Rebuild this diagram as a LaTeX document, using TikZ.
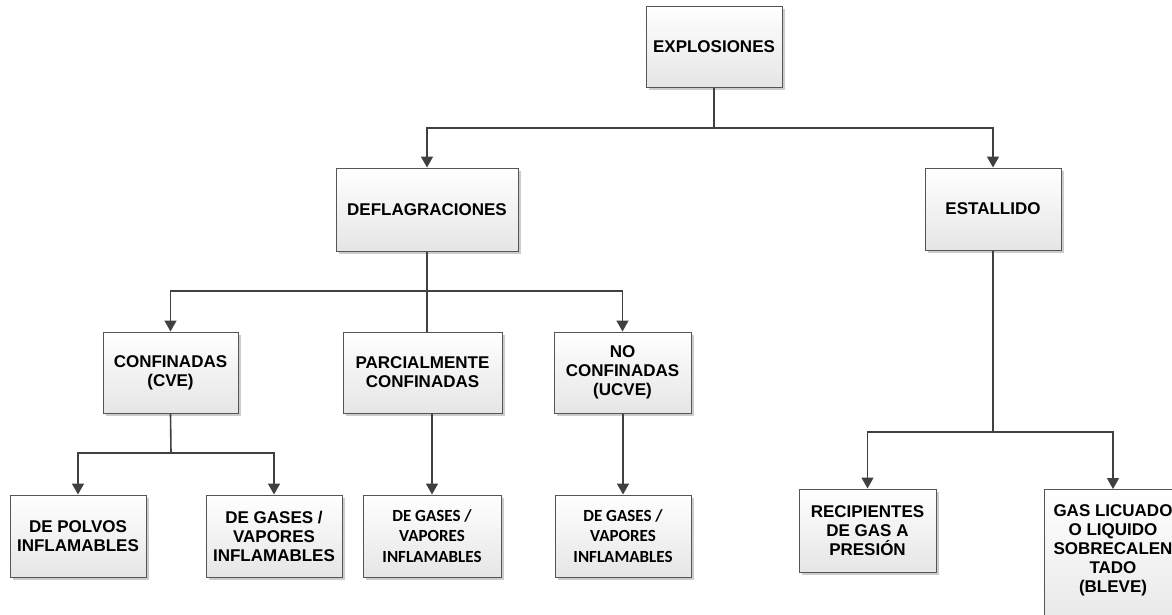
\documentclass[tikz,border=0pt]{standalone}
\usepackage{fontspec}
\setmainfont{Liberation Sans}
\newfontfamily\carlito{Carlito}
\usetikzlibrary{arrows.meta,shadows}
\definecolor{wirecol}{HTML}{404040}
\definecolor{edgecol}{HTML}{555555}

\begin{document}
\begin{tikzpicture}[x=1pt,y=-1pt,
    box/.style={draw=edgecol, line width=1pt, top color=white, bottom color=black!10,
        drop shadow={shadow xshift=3pt, shadow yshift=-3pt, fill=black!20, opacity=1},
        align=center, inner sep=2pt, font=\bfseries\fontsize{17}{19}\selectfont},
    cbox/.style={box, font=\carlito\bfseries\fontsize{17}{20.5}\selectfont},
    wire/.style={draw=wirecol, line width=1.6pt},
    arr/.style={wire, -{Triangle[width=12pt,length=11pt]}}]
    \useasboundingbox (0,0) rectangle (1172,614);

    % boxes, px coordinates
    \node[box, minimum width=136, minimum height=81] (expl) at (714,46.5) {EXPLOSIONES};
    \node[box, minimum width=182, minimum height=83] (defl) at (427,209.5) {DEFLAGRACIONES};
    \node[box, minimum width=136, minimum height=82] (esta) at (993,209) {ESTALLIDO};
    \node[box, minimum width=135, minimum height=81] (conf) at (170.5,372.5) {CONFINADAS\\(CVE)};
    \node[box, minimum width=159, minimum height=81] (parc) at (422.5,372.5) {PARCIALMENTE\\CONFINADAS};
    \node[box, minimum width=137, minimum height=81] (ucve) at (622.5,372.5) {NO\\CONFINADAS\\(UCVE)};
    \node[box, minimum width=136, minimum height=82] (polv) at (78,536) {DE POLVOS\\INFLAMABLES};
    \node[box, minimum width=136, minimum height=82] (gasc) at (274,536) {DE GASES /\\VAPORES\\INFLAMABLES};
    \node[cbox, minimum width=138, minimum height=82] (gasp) at (432,536) {DE GASES /\\VAPORES\\INFLAMABLES};
    \node[cbox, minimum width=136, minimum height=82] (gasu) at (623,536) {DE GASES /\\VAPORES\\INFLAMABLES};
    \node[box, minimum width=137, minimum height=83] (reci) at (867.5,530.5) {RECIPIENTES\\DE GAS A\\PRESIÓN};
    \node[box, minimum width=138, inner ysep=15pt, anchor=north] (blev) at (1113,489)
        {GAS LICUADO\\O LIQUIDO\\SOBRECALEN\\TADO\\(BLEVE)\\[10pt]\mbox{}};

    % connectors
    \coordinate (j1) at (714,128);
    \draw[wire] (expl.south) -- (j1);
    \draw[arr] (j1) -| (defl.north);
    \draw[arr] (j1) -| (esta.north);

    \coordinate (j2) at (427,291);
    \draw[wire] (defl.south) -- (j2);
    \draw[arr] (j2) -| (conf.north);
    \draw[arr] (j2) -| (ucve.north);
    \draw[wire] (j2) -- (j2 |- parc.north);

    \coordinate (j3) at (171,453);
    \draw[wire] (conf.south) -- (j3);
    \draw[arr] (j3) -| (polv.north);
    \draw[arr] (j3) -| (gasc.north);

    \draw[arr] (parc.south -| gasp.north) -- (gasp.north);
    \draw[arr] (ucve.south -| gasu.north) -- (gasu.north);

    \coordinate (j4) at (993,432);
    \draw[wire] (esta.south) -- (j4);
    \draw[arr] (j4) -| (reci.north);
    \draw[arr] (j4) -| (blev.north);
\end{tikzpicture}
\end{document}
